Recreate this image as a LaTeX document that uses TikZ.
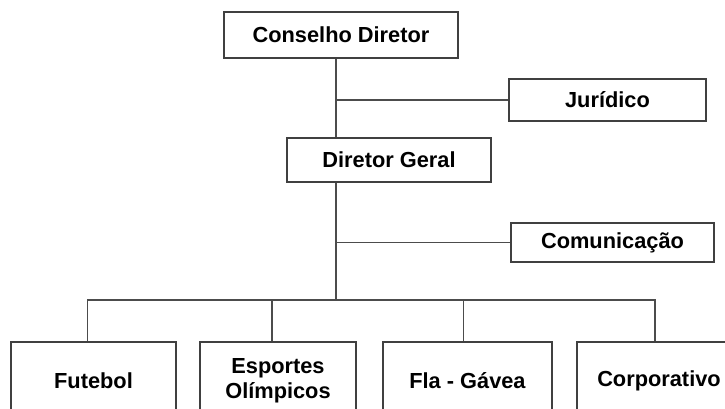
\documentclass[tikz,border=0pt]{standalone}
\usepackage{fontspec}
\setmainfont{Liberation Sans}
\usepackage{tikz}
\usetikzlibrary{positioning,calc}
\newdimen\pxunit
\pxunit=0.02cm
\tikzset{
    orgbox/.style={draw=black!75, line width=0.8pt, fill=white, align=center,
        inner sep=0pt, font=\fontsize{12.4pt}{14.3pt}\selectfont\bfseries},
    link/.style={draw=black!70, line width=0.7pt}
}

\begin{document}
\begin{tikzpicture}[x=0.02cm,y=-0.02cm]
        \useasboundingbox (0,0) rectangle (725,409);
        \clip (0,0) rectangle (725,409);
        % upper levels
        \node[orgbox, minimum width=234\pxunit, minimum height=46\pxunit] (cons) at (341,35) {Conselho Diretor};
        \node[orgbox, minimum width=197\pxunit, minimum height=42\pxunit] (jur) at (607.5,100) {Jurídico};
        \node[orgbox, minimum width=204\pxunit, minimum height=44\pxunit] (dg) at (389,160) {Diretor Geral};
        \node[orgbox, minimum width=203\pxunit, minimum height=39\pxunit] (com) at (612.5,242.5) {Comunicação};
        % lower level
        \node[orgbox, minimum width=165\pxunit, minimum height=78\pxunit] (fut) at (93.5,381) {Futebol};
        \node[orgbox, minimum width=156\pxunit, minimum height=78\pxunit] (esp) at (278,381) {Esportes\\Olímpicos};
        \node[orgbox, minimum width=169\pxunit, minimum height=78\pxunit] (fla) at (467.5,381) {Fla - Gávea};
        \node[orgbox, minimum width=164\pxunit, minimum height=78\pxunit] (corp) at (659,381) {Corporativo};

        \coordinate (spine) at (336,0);
        \coordinate (bus) at (0,300);
        \draw[link] (cons.south -| spine) -- (dg.north -| spine);
        \draw[link] (spine |- jur.west) -- (jur.west);
        \draw[link] (dg.south -| spine) -- (spine |- bus);
        \draw[link] (spine |- com.west) -- (com.west);
        \draw[link] ([xshift=-6\pxunit]fut.north) |- ([xshift=-4\pxunit]corp.north |- bus) -- ([xshift=-4\pxunit]corp.north);
        \draw[link] ([xshift=-6\pxunit]esp.north) -- ([xshift=-6\pxunit]esp.north |- bus);
        \draw[link] ([xshift=-4\pxunit]fla.north) -- ([xshift=-4\pxunit]fla.north |- bus);
\end{tikzpicture}
\end{document}
